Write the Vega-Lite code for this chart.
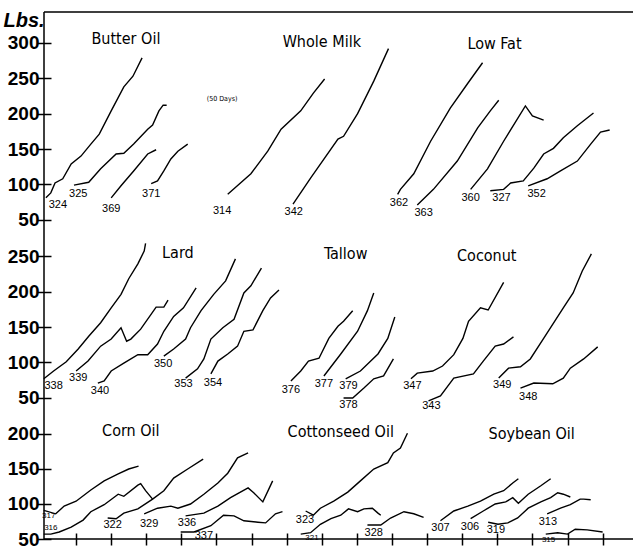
{
  "$schema": "https://vega.github.io/schema/vega-lite/v6.json",
  "padding": {"left": 2, "top": 9, "right": 0, "bottom": 0},
  "background": "white",
  "spacing": 0,
  "bounds": "flush",
  "resolve": {"scale": {"x": "independent", "y": "independent"}},
  "config": {
    "font": "Liberation Sans",
    "axis": {"domainColor": "#000", "domainWidth": 1.5, "tickColor": "#000", "tickWidth": 1.5, "labelColor": "#000", "grid": false},
    "axisY": {"labelFontSize": 19, "labelFontWeight": "bold", "labelPadding": -2, "tickSize": 14, "offset": -7, "domain": false}
  },
  "datasets": {
    "curves": [
      {"row":1,"id":"324","day":7,"lbs":81},{"row":1,"id":"324","day":14,"lbs":88},{"row":1,"id":"324","day":20,"lbs":102},{"row":1,"id":"324","day":31,"lbs":108},{"row":1,"id":"324","day":43,"lbs":129},{"row":1,"id":"324","day":57,"lbs":140},{"row":1,"id":"324","day":71,"lbs":157},{"row":1,"id":"324","day":83,"lbs":171},{"row":1,"id":"324","day":100,"lbs":204},{"row":1,"id":"324","day":118,"lbs":238},{"row":1,"id":"324","day":131,"lbs":253},{"row":1,"id":"324","day":144,"lbs":279},
      {"row":1,"id":"325","day":47,"lbs":99},{"row":1,"id":"325","day":68,"lbs":103},{"row":1,"id":"325","day":85,"lbs":122},{"row":1,"id":"325","day":107,"lbs":143},{"row":1,"id":"325","day":118,"lbs":144},{"row":1,"id":"325","day":132,"lbs":157},{"row":1,"id":"325","day":152,"lbs":178},{"row":1,"id":"325","day":159,"lbs":184},{"row":1,"id":"325","day":168,"lbs":204},{"row":1,"id":"325","day":174,"lbs":212},{"row":1,"id":"325","day":179,"lbs":212},
      {"row":1,"id":"369","day":100,"lbs":81},{"row":1,"id":"369","day":114,"lbs":98},{"row":1,"id":"369","day":132,"lbs":119},{"row":1,"id":"369","day":152,"lbs":143},{"row":1,"id":"369","day":164,"lbs":149},
      {"row":1,"id":"371","day":157,"lbs":101},{"row":1,"id":"371","day":166,"lbs":105},{"row":1,"id":"371","day":175,"lbs":119},{"row":1,"id":"371","day":185,"lbs":136},{"row":1,"id":"371","day":195,"lbs":147},{"row":1,"id":"371","day":209,"lbs":157},
      {"row":1,"id":"314","day":266,"lbs":86},{"row":1,"id":"314","day":299,"lbs":115},{"row":1,"id":"314","day":323,"lbs":147},{"row":1,"id":"314","day":342,"lbs":178},{"row":1,"id":"314","day":370,"lbs":204},{"row":1,"id":"314","day":388,"lbs":229},{"row":1,"id":"314","day":404,"lbs":249},
      {"row":1,"id":"342","day":359,"lbs":72},{"row":1,"id":"342","day":384,"lbs":109},{"row":1,"id":"342","day":423,"lbs":164},{"row":1,"id":"342","day":431,"lbs":168},{"row":1,"id":"342","day":451,"lbs":200},{"row":1,"id":"342","day":474,"lbs":246},{"row":1,"id":"342","day":495,"lbs":292},
      {"row":1,"id":"362","day":508,"lbs":86},{"row":1,"id":"362","day":512,"lbs":93},{"row":1,"id":"362","day":531,"lbs":115},{"row":1,"id":"362","day":555,"lbs":161},{"row":1,"id":"362","day":583,"lbs":208},{"row":1,"id":"362","day":608,"lbs":243},{"row":1,"id":"362","day":629,"lbs":272},
      {"row":1,"id":"363","day":536,"lbs":71},{"row":1,"id":"363","day":559,"lbs":93},{"row":1,"id":"363","day":593,"lbs":133},{"row":1,"id":"363","day":622,"lbs":180},{"row":1,"id":"363","day":640,"lbs":204},{"row":1,"id":"363","day":652,"lbs":219},
      {"row":1,"id":"360","day":612,"lbs":93},{"row":1,"id":"360","day":636,"lbs":122},{"row":1,"id":"360","day":659,"lbs":161},{"row":1,"id":"360","day":690,"lbs":211},{"row":1,"id":"360","day":700,"lbs":197},{"row":1,"id":"360","day":716,"lbs":191},
      {"row":1,"id":"327","day":640,"lbs":91},{"row":1,"id":"327","day":659,"lbs":93},{"row":1,"id":"327","day":669,"lbs":102},{"row":1,"id":"327","day":687,"lbs":105},{"row":1,"id":"327","day":702,"lbs":123},{"row":1,"id":"327","day":716,"lbs":143},{"row":1,"id":"327","day":730,"lbs":151},{"row":1,"id":"327","day":744,"lbs":166},{"row":1,"id":"327","day":764,"lbs":183},{"row":1,"id":"327","day":787,"lbs":201},
      {"row":1,"id":"352","day":694,"lbs":98},{"row":1,"id":"352","day":721,"lbs":108},{"row":1,"id":"352","day":740,"lbs":119},{"row":1,"id":"352","day":764,"lbs":133},{"row":1,"id":"352","day":783,"lbs":157},{"row":1,"id":"352","day":797,"lbs":174},{"row":1,"id":"352","day":810,"lbs":177},
      {"row":2,"id":"338","day":4,"lbs":77},{"row":2,"id":"338","day":18,"lbs":88},{"row":2,"id":"338","day":36,"lbs":101},{"row":2,"id":"338","day":53,"lbs":119},{"row":2,"id":"338","day":68,"lbs":137},{"row":2,"id":"338","day":85,"lbs":156},{"row":2,"id":"338","day":100,"lbs":177},{"row":2,"id":"338","day":114,"lbs":196},{"row":2,"id":"338","day":125,"lbs":218},{"row":2,"id":"338","day":138,"lbs":239},{"row":2,"id":"338","day":147,"lbs":257},{"row":2,"id":"338","day":149,"lbs":268},
      {"row":2,"id":"339","day":50,"lbs":88},{"row":2,"id":"339","day":67,"lbs":102},{"row":2,"id":"339","day":85,"lbs":123},{"row":2,"id":"339","day":100,"lbs":133},{"row":2,"id":"339","day":114,"lbs":149},{"row":2,"id":"339","day":122,"lbs":130},{"row":2,"id":"339","day":128,"lbs":133},{"row":2,"id":"339","day":142,"lbs":147},{"row":2,"id":"339","day":164,"lbs":178},{"row":2,"id":"339","day":175,"lbs":178},{"row":2,"id":"339","day":181,"lbs":188},
      {"row":2,"id":"340","day":81,"lbs":71},{"row":2,"id":"340","day":90,"lbs":74},{"row":2,"id":"340","day":100,"lbs":88},{"row":2,"id":"340","day":118,"lbs":99},{"row":2,"id":"340","day":138,"lbs":111},{"row":2,"id":"340","day":152,"lbs":111},{"row":2,"id":"340","day":166,"lbs":126},{"row":2,"id":"340","day":175,"lbs":144},{"row":2,"id":"340","day":189,"lbs":165},{"row":2,"id":"340","day":203,"lbs":177},{"row":2,"id":"340","day":221,"lbs":205},
      {"row":2,"id":"350","day":175,"lbs":109},{"row":2,"id":"350","day":189,"lbs":119},{"row":2,"id":"350","day":206,"lbs":133},{"row":2,"id":"350","day":213,"lbs":149},{"row":2,"id":"350","day":228,"lbs":173},{"row":2,"id":"350","day":246,"lbs":196},{"row":2,"id":"350","day":263,"lbs":215},{"row":2,"id":"350","day":277,"lbs":246},
      {"row":2,"id":"353","day":206,"lbs":78},{"row":2,"id":"353","day":223,"lbs":91},{"row":2,"id":"353","day":232,"lbs":105},{"row":2,"id":"353","day":242,"lbs":133},{"row":2,"id":"353","day":259,"lbs":149},{"row":2,"id":"353","day":275,"lbs":161},{"row":2,"id":"353","day":289,"lbs":198},{"row":2,"id":"353","day":299,"lbs":208},{"row":2,"id":"353","day":314,"lbs":233},
      {"row":2,"id":"354","day":242,"lbs":84},{"row":2,"id":"354","day":252,"lbs":102},{"row":2,"id":"354","day":266,"lbs":112},{"row":2,"id":"354","day":280,"lbs":123},{"row":2,"id":"354","day":289,"lbs":144},{"row":2,"id":"354","day":302,"lbs":146},{"row":2,"id":"354","day":316,"lbs":173},{"row":2,"id":"354","day":327,"lbs":191},{"row":2,"id":"354","day":339,"lbs":202},
      {"row":2,"id":"376","day":356,"lbs":74},{"row":2,"id":"376","day":370,"lbs":88},{"row":2,"id":"376","day":381,"lbs":102},{"row":2,"id":"376","day":396,"lbs":106},{"row":2,"id":"376","day":410,"lbs":134},{"row":2,"id":"376","day":423,"lbs":151},{"row":2,"id":"376","day":431,"lbs":158},{"row":2,"id":"376","day":444,"lbs":173},
      {"row":2,"id":"377","day":403,"lbs":81},{"row":2,"id":"377","day":427,"lbs":112},{"row":2,"id":"377","day":451,"lbs":144},{"row":2,"id":"377","day":465,"lbs":173},{"row":2,"id":"377","day":474,"lbs":198},
      {"row":2,"id":"379","day":434,"lbs":77},{"row":2,"id":"379","day":455,"lbs":88},{"row":2,"id":"379","day":480,"lbs":112},{"row":2,"id":"379","day":494,"lbs":134},{"row":2,"id":"379","day":504,"lbs":164},
      {"row":2,"id":"378","day":431,"lbs":50},{"row":2,"id":"378","day":444,"lbs":50},{"row":2,"id":"378","day":460,"lbs":64},{"row":2,"id":"378","day":474,"lbs":77},{"row":2,"id":"378","day":488,"lbs":81},{"row":2,"id":"378","day":502,"lbs":105},
      {"row":2,"id":"347","day":527,"lbs":77},{"row":2,"id":"347","day":536,"lbs":85},{"row":2,"id":"347","day":558,"lbs":88},{"row":2,"id":"347","day":572,"lbs":95},{"row":2,"id":"347","day":588,"lbs":111},{"row":2,"id":"347","day":601,"lbs":134},{"row":2,"id":"347","day":609,"lbs":158},{"row":2,"id":"347","day":626,"lbs":177},{"row":2,"id":"347","day":637,"lbs":174},{"row":2,"id":"347","day":659,"lbs":213},
      {"row":2,"id":"343","day":552,"lbs":46},{"row":2,"id":"343","day":569,"lbs":53},{"row":2,"id":"343","day":588,"lbs":78},{"row":2,"id":"343","day":616,"lbs":84},{"row":2,"id":"343","day":630,"lbs":102},{"row":2,"id":"343","day":647,"lbs":123},{"row":2,"id":"343","day":659,"lbs":126},{"row":2,"id":"343","day":673,"lbs":136},
      {"row":2,"id":"349","day":652,"lbs":78},{"row":2,"id":"349","day":666,"lbs":92},{"row":2,"id":"349","day":683,"lbs":94},{"row":2,"id":"349","day":697,"lbs":105},{"row":2,"id":"349","day":716,"lbs":134},{"row":2,"id":"349","day":744,"lbs":177},{"row":2,"id":"349","day":758,"lbs":198},{"row":2,"id":"349","day":771,"lbs":229},{"row":2,"id":"349","day":784,"lbs":253},
      {"row":2,"id":"348","day":683,"lbs":64},{"row":2,"id":"348","day":702,"lbs":71},{"row":2,"id":"348","day":729,"lbs":70},{"row":2,"id":"348","day":744,"lbs":78},{"row":2,"id":"348","day":754,"lbs":92},{"row":2,"id":"348","day":773,"lbs":105},{"row":2,"id":"348","day":793,"lbs":122},
      {"row":3,"id":"317","day":4,"lbs":91},{"row":3,"id":"317","day":21,"lbs":86},{"row":3,"id":"317","day":33,"lbs":97},{"row":3,"id":"317","day":50,"lbs":104},{"row":3,"id":"317","day":71,"lbs":120},{"row":3,"id":"317","day":90,"lbs":133},{"row":3,"id":"317","day":110,"lbs":143},{"row":3,"id":"317","day":125,"lbs":150},{"row":3,"id":"317","day":139,"lbs":154},
      {"row":3,"id":"316","day":4,"lbs":57},{"row":3,"id":"316","day":14,"lbs":57},{"row":3,"id":"316","day":26,"lbs":60},{"row":3,"id":"316","day":43,"lbs":67},{"row":3,"id":"316","day":60,"lbs":77},{"row":3,"id":"316","day":71,"lbs":89},{"row":3,"id":"316","day":90,"lbs":99},{"row":3,"id":"316","day":110,"lbs":114},{"row":3,"id":"316","day":118,"lbs":111},{"row":3,"id":"316","day":138,"lbs":127},{"row":3,"id":"316","day":142,"lbs":129},{"row":3,"id":"316","day":149,"lbs":119},{"row":3,"id":"316","day":159,"lbs":107},
      {"row":3,"id":"322","day":95,"lbs":80},{"row":3,"id":"322","day":107,"lbs":79},{"row":3,"id":"322","day":118,"lbs":87},{"row":3,"id":"322","day":138,"lbs":93},{"row":3,"id":"322","day":159,"lbs":107},{"row":3,"id":"322","day":175,"lbs":119},{"row":3,"id":"322","day":189,"lbs":137},{"row":3,"id":"322","day":209,"lbs":150},{"row":3,"id":"322","day":231,"lbs":164},
      {"row":3,"id":"329","day":147,"lbs":86},{"row":3,"id":"329","day":166,"lbs":94},{"row":3,"id":"329","day":185,"lbs":97},{"row":3,"id":"329","day":195,"lbs":94},{"row":3,"id":"329","day":213,"lbs":100},{"row":3,"id":"329","day":232,"lbs":114},{"row":3,"id":"329","day":252,"lbs":130},{"row":3,"id":"329","day":266,"lbs":144},{"row":3,"id":"329","day":280,"lbs":166},{"row":3,"id":"329","day":295,"lbs":173},
      {"row":3,"id":"336","day":206,"lbs":83},{"row":3,"id":"336","day":232,"lbs":87},{"row":3,"id":"336","day":252,"lbs":97},{"row":3,"id":"336","day":270,"lbs":109},{"row":3,"id":"336","day":295,"lbs":123},{"row":3,"id":"336","day":303,"lbs":116},{"row":3,"id":"336","day":316,"lbs":103},{"row":3,"id":"336","day":330,"lbs":133},
      {"row":3,"id":"337","day":199,"lbs":60},{"row":3,"id":"337","day":218,"lbs":60},{"row":3,"id":"337","day":242,"lbs":69},{"row":3,"id":"337","day":260,"lbs":84},{"row":3,"id":"337","day":275,"lbs":83},{"row":3,"id":"337","day":289,"lbs":76},{"row":3,"id":"337","day":309,"lbs":74},{"row":3,"id":"337","day":320,"lbs":73},{"row":3,"id":"337","day":334,"lbs":86},{"row":3,"id":"337","day":344,"lbs":89},
      {"row":3,"id":"323","day":377,"lbs":90},{"row":3,"id":"323","day":388,"lbs":84},{"row":3,"id":"323","day":398,"lbs":94},{"row":3,"id":"323","day":417,"lbs":104},{"row":3,"id":"323","day":437,"lbs":117},{"row":3,"id":"323","day":455,"lbs":133},{"row":3,"id":"323","day":474,"lbs":150},{"row":3,"id":"323","day":494,"lbs":159},{"row":3,"id":"323","day":502,"lbs":173},{"row":3,"id":"323","day":512,"lbs":180},{"row":3,"id":"323","day":522,"lbs":201},
      {"row":3,"id":"321","day":370,"lbs":57},{"row":3,"id":"321","day":384,"lbs":59},{"row":3,"id":"321","day":398,"lbs":71},{"row":3,"id":"321","day":413,"lbs":79},{"row":3,"id":"321","day":427,"lbs":84},{"row":3,"id":"321","day":438,"lbs":93},{"row":3,"id":"321","day":451,"lbs":89},{"row":3,"id":"321","day":460,"lbs":93},{"row":3,"id":"321","day":472,"lbs":94},{"row":3,"id":"321","day":480,"lbs":87},{"row":3,"id":"321","day":484,"lbs":84},
      {"row":3,"id":"328","day":465,"lbs":70},{"row":3,"id":"328","day":484,"lbs":70},{"row":3,"id":"328","day":498,"lbs":80},{"row":3,"id":"328","day":517,"lbs":89},{"row":3,"id":"328","day":531,"lbs":86},{"row":3,"id":"328","day":545,"lbs":81},
      {"row":3,"id":"307","day":569,"lbs":76},{"row":3,"id":"307","day":588,"lbs":90},{"row":3,"id":"307","day":608,"lbs":97},{"row":3,"id":"307","day":626,"lbs":104},{"row":3,"id":"307","day":645,"lbs":114},{"row":3,"id":"307","day":659,"lbs":119},{"row":3,"id":"307","day":672,"lbs":130},{"row":3,"id":"307","day":680,"lbs":136},
      {"row":3,"id":"306","day":612,"lbs":79},{"row":3,"id":"306","day":630,"lbs":90},{"row":3,"id":"306","day":647,"lbs":100},{"row":3,"id":"306","day":662,"lbs":103},{"row":3,"id":"306","day":672,"lbs":109},{"row":3,"id":"306","day":680,"lbs":101},{"row":3,"id":"306","day":694,"lbs":114},{"row":3,"id":"306","day":712,"lbs":126},{"row":3,"id":"306","day":726,"lbs":136},
      {"row":3,"id":"319","day":637,"lbs":74},{"row":3,"id":"319","day":651,"lbs":71},{"row":3,"id":"319","day":665,"lbs":73},{"row":3,"id":"319","day":679,"lbs":80},{"row":3,"id":"319","day":694,"lbs":94},{"row":3,"id":"319","day":712,"lbs":103},{"row":3,"id":"319","day":726,"lbs":109},{"row":3,"id":"319","day":736,"lbs":116},{"row":3,"id":"319","day":744,"lbs":114},{"row":3,"id":"319","day":754,"lbs":110},
      {"row":3,"id":"313","day":721,"lbs":86},{"row":3,"id":"313","day":740,"lbs":94},{"row":3,"id":"313","day":754,"lbs":99},{"row":3,"id":"313","day":768,"lbs":107},{"row":3,"id":"313","day":773,"lbs":107},{"row":3,"id":"313","day":783,"lbs":106},
      {"row":3,"id":"315","day":719,"lbs":57},{"row":3,"id":"315","day":736,"lbs":59},{"row":3,"id":"315","day":750,"lbs":57},{"row":3,"id":"315","day":761,"lbs":64},{"row":3,"id":"315","day":778,"lbs":63},{"row":3,"id":"315","day":800,"lbs":60}
    ],
    "labels": [
      {"row":1,"id":"324","day":24,"lbs":71},{"row":1,"id":"325","day":53,"lbs":86},{"row":1,"id":"369","day":100,"lbs":65},{"row":1,"id":"371","day":157,"lbs":86},{"row":1,"id":"314","day":258,"lbs":62},{"row":1,"id":"342","day":360,"lbs":61},{"row":1,"id":"362","day":510,"lbs":74},{"row":1,"id":"363","day":545,"lbs":60},{"row":1,"id":"360","day":612,"lbs":81},{"row":1,"id":"327","day":656,"lbs":81},{"row":1,"id":"352","day":706,"lbs":86},
      {"row":2,"id":"338","day":18,"lbs":67},{"row":2,"id":"339","day":53,"lbs":78},{"row":2,"id":"340","day":84,"lbs":60},{"row":2,"id":"350","day":174,"lbs":98},{"row":2,"id":"353","day":203,"lbs":70},{"row":2,"id":"354","day":245,"lbs":71},{"row":2,"id":"376","day":356,"lbs":61},{"row":2,"id":"377","day":403,"lbs":70},{"row":2,"id":"379","day":438,"lbs":67},{"row":2,"id":"378","day":438,"lbs":40},{"row":2,"id":"347","day":529,"lbs":67},{"row":2,"id":"343","day":556,"lbs":39},{"row":2,"id":"349","day":657,"lbs":68},{"row":2,"id":"348","day":694,"lbs":51},
      {"row":3,"id":"317","day":11,"lbs":83},{"row":3,"id":"316","day":14,"lbs":66},{"row":3,"id":"322","day":102,"lbs":70},{"row":3,"id":"329","day":154,"lbs":71},{"row":3,"id":"336","day":208,"lbs":73},{"row":3,"id":"337","day":232,"lbs":54},{"row":3,"id":"323","day":376,"lbs":77},{"row":3,"id":"321","day":386,"lbs":51},{"row":3,"id":"328","day":474,"lbs":59},{"row":3,"id":"307","day":569,"lbs":66},{"row":3,"id":"306","day":611,"lbs":67},{"row":3,"id":"319","day":648,"lbs":63},{"row":3,"id":"313","day":722,"lbs":74},{"row":3,"id":"315","day":723,"lbs":49}
    ],
    "titles": [
      {"row":1,"text":"Butter Oil","day":121,"lbs":306},{"row":1,"text":"Whole Milk","day":400,"lbs":301},{"row":1,"text":"Low Fat","day":646,"lbs":299},{"row":1,"text":"(50 Days)","day":258,"lbs":221},
      {"row":2,"text":"Lard","day":195,"lbs":254},{"row":2,"text":"Tallow","day":434,"lbs":253},{"row":2,"text":"Coconut","day":635,"lbs":250},
      {"row":3,"text":"Corn Oil","day":128,"lbs":204},{"row":3,"text":"Cottonseed Oil","day":427,"lbs":203},{"row":3,"text":"Soybean Oil","day":699,"lbs":200}
    ]
  },
  "vconcat": [
    {
      "width": 590, "height": 226,
      "view": {"stroke": "#000", "strokeWidth": 1.5, "strokeDash": [590, 816, 226, 0]},
      "encoding": {
        "x": {"field": "day", "type": "quantitative", "scale": {"domain": [4.3, 844.7], "nice": false, "zero": false}, "axis": null},
        "y": {"field": "lbs", "type": "quantitative", "scale": {"domain": [24.2, 343.8], "nice": false, "zero": false}, "axis": {"values": [50, 100, 150, 200, 250, 300], "title": "Lbs.", "titleAngle": 0, "titleAlign": "left", "titleBaseline": "alphabetic", "titleX": -48, "titleY": 14, "titleFontSize": 20, "titleFontStyle": "italic", "titleFontWeight": "bold", "titleColor": "#000", "titleFont": "Liberation Sans"}}
      },
      "layer": [
        {"data": {"name": "curves"}, "transform": [{"filter": "datum.row == 1"}], "mark": {"type": "line", "color": "#000", "strokeWidth": 1.4}, "encoding": {"detail": {"field": "id"}}},
        {"data": {"name": "labels"}, "transform": [{"filter": "datum.row == 1"}], "mark": {"type": "text", "color": "#000", "baseline": "middle"}, "encoding": {"text": {"field": "id"}, "size": {"value": 11}}},
        {"data": {"name": "titles"}, "transform": [{"filter": "datum.row == 1"}], "mark": {"type": "text", "color": "#000", "baseline": "middle", "font": "'Liberation Sans Narrow', 'DejaVu Sans Condensed', 'Liberation Sans'"}, "encoding": {"text": {"field": "text"}, "size": {"condition": {"test": "datum.text == '(50 Days)'", "value": 7}, "value": 16}}}
      ]
    },
    {
      "width": 590, "height": 178,
      "view": {"stroke": "#000", "strokeWidth": 1.5, "strokeDash": [0, 1358, 178, 0]},
      "encoding": {
        "x": {"field": "day", "type": "quantitative", "scale": {"domain": [4.3, 844.7], "nice": false, "zero": false}, "axis": null},
        "y": {"field": "lbs", "type": "quantitative", "scale": {"domain": [24.6, 275.4], "nice": false, "zero": false}, "axis": {"values": [50, 100, 150, 200, 250], "title": null}}
      },
      "layer": [
        {"data": {"name": "curves"}, "transform": [{"filter": "datum.row == 2"}], "mark": {"type": "line", "color": "#000", "strokeWidth": 1.4}, "encoding": {"detail": {"field": "id"}}},
        {"data": {"name": "labels"}, "transform": [{"filter": "datum.row == 2"}], "mark": {"type": "text", "color": "#000", "baseline": "middle"}, "encoding": {"text": {"field": "id"}, "size": {"value": 11}}},
        {"data": {"name": "titles"}, "transform": [{"filter": "datum.row == 2"}], "mark": {"type": "text", "color": "#000", "baseline": "middle", "font": "'Liberation Sans Narrow', 'DejaVu Sans Condensed', 'Liberation Sans'"}, "encoding": {"text": {"field": "text"}, "size": {"value": 16}}}
      ]
    },
    {
      "width": 590, "height": 123,
      "view": {"stroke": "#000", "strokeWidth": 1.5, "strokeDash": [0, 713, 713, 0]},
      "encoding": {
        "x": {"field": "day", "type": "quantitative", "scale": {"domain": [4.3, 844.7], "nice": false, "zero": false}, "axis": {"orient": "bottom", "values": [50, 100, 150, 200, 250, 300, 350, 400, 450, 500, 550, 600, 650, 700, 750, 800], "labels": false, "domain": false, "offset": -6, "tickSize": 12, "title": null}},
        "y": {"field": "lbs", "type": "quantitative", "scale": {"domain": [50, 225.7], "nice": false, "zero": false}, "axis": {"values": [50, 100, 150, 200], "title": null}}
      },
      "layer": [
        {"data": {"name": "curves"}, "transform": [{"filter": "datum.row == 3"}], "mark": {"type": "line", "color": "#000", "strokeWidth": 1.4}, "encoding": {"detail": {"field": "id"}}},
        {"data": {"name": "labels"}, "transform": [{"filter": "datum.row == 3"}], "mark": {"type": "text", "color": "#000", "baseline": "middle"}, "encoding": {"text": {"field": "id"}, "size": {"condition": {"test": "indexof(['316','317','321','315'], datum.id) >= 0", "value": 8}, "value": 11}}},
        {"data": {"name": "titles"}, "transform": [{"filter": "datum.row == 3"}], "mark": {"type": "text", "color": "#000", "baseline": "middle", "font": "'Liberation Sans Narrow', 'DejaVu Sans Condensed', 'Liberation Sans'"}, "encoding": {"text": {"field": "text"}, "size": {"value": 16}}}
      ]
    }
  ]
}
